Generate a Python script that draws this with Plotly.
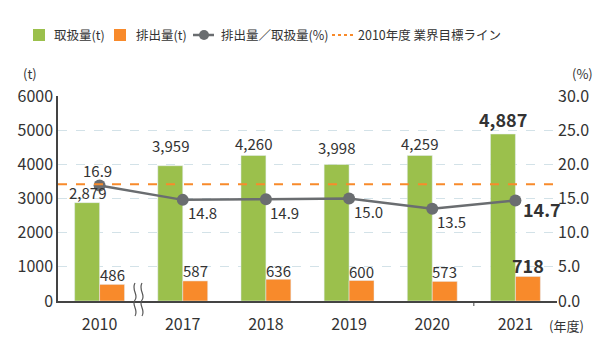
import plotly.graph_objects as go

years = ["2010", "2017", "2018", "2019", "2020", "2021"]
handled = [2879, 3959, 4260, 3998, 4259, 4887]
discharged = [486, 587, 636, 600, 573, 718]
rate = [16.9, 14.8, 14.9, 15.0, 13.5, 14.7]
target_rate = 17.1
legend_names = ["取扱量(t)", "排出量(t)", "排出量／取扱量(%)", "2010年度 業界目標ライン"]

# label placement (pixels) – styling only
handled_gap = [10, 20, 12, 17, 12, 15]
discharged_gap = [10, 10, 9, 9, 9.5, 11]
rate_shift = [(-2, 15, "center"), (3, -13, "left"), (2, -13, "left"),
              (3, -13, "left"), (3, -13, "left"), (6, -8, "left")]

GREEN = "#9bc04c"
ORANGE = "#f88a2b"
GRAY = "#6a6d70"
TXT = "#333333"
FONT = "Noto Sans CJK JP"

W, H = 610, 353
L, R, T, B = 58, 53, 96, 52
PW, PH = W - L - R, H - T - B

def px(x):
    return (x - L) / PW

def py(y):
    return (H - B - y) / PH

n = len(years)
last = n - 1

fig = go.Figure()
fig.add_trace(go.Bar(x=years, y=handled, name=legend_names[0], marker_color=GREEN,
                     offsetgroup="a"))
fig.add_trace(go.Bar(x=years, y=discharged, name=legend_names[1], marker_color=ORANGE,
                     offsetgroup="b"))
fig.add_trace(go.Scatter(
    x=years, y=rate, name=legend_names[2], yaxis="y2", mode="lines+markers",
    line=dict(color=GRAY, width=2.5), marker=dict(color=GRAY, size=12),
    cliponaxis=False,
))

fig.add_shape(type="line", xref="paper", x0=0, x1=1, yref="y2",
              y0=target_rate, y1=target_rate,
              line=dict(color=ORANGE, width=2, dash="dash"), layer="above")

# tick between 2020 and 2021
fig.add_shape(type="line", xref="x", x0=4.5, x1=4.5, yref="paper", y0=0, y1=py(306),
              line=dict(color="#444", width=1))

# axis break marks
for bx in [135, 142]:
    a = px(bx)
    d = 4 / PW
    fig.add_shape(type="path", xref="paper", yref="paper",
                  path=f"M {a},{py(283)} C {a-d},{py(290)} {a+d},{py(295)} {a},{py(300)} "
                       f"C {a-d},{py(305)} {a+d},{py(310)} {a},{py(316)}",
                  line=dict(color="#555", width=1.2))

# manual legend
ly = py(35)
fig.add_shape(type="rect", xref="paper", yref="paper", x0=px(33), x1=px(45),
              y0=py(41), y1=py(29), fillcolor=GREEN, line_width=0)
fig.add_shape(type="rect", xref="paper", yref="paper", x0=px(114), x1=px(126),
              y0=py(41), y1=py(29), fillcolor=ORANGE, line_width=0)
fig.add_shape(type="line", xref="paper", yref="paper", x0=px(193), x1=px(214),
              y0=ly, y1=ly, line=dict(color=GRAY, width=2.5))
fig.add_shape(type="circle", xref="paper", yref="paper", x0=px(199), x1=px(209),
              y0=py(40), y1=py(30), fillcolor=GRAY, line_width=0)
fig.add_shape(type="line", xref="paper", yref="paper", x0=px(332), x1=px(353),
              y0=ly, y1=ly, line=dict(color=ORANGE, width=2, dash="3px,3px"))

annotations = []
for name, x0 in zip(legend_names, [52, 134, 219, 356]):
    annotations.append(dict(text=name, xref="paper", yref="paper", x=px(x0), y=ly,
                            xanchor="left", yanchor="middle", showarrow=False,
                            font=dict(size=12.5, color=TXT)))

# data labels
for i in range(n):
    bold = i == last
    size = 18 if bold else 15
    for vals, gaps, dx in [(handled, handled_gap, -0.15), (discharged, discharged_gap, 0.15)]:
        s = f"{vals[i]:,}"
        annotations.append(dict(
            text=f"<b>{s}</b>" if bold else s, x=i + dx, y=vals[i], xref="x", yref="y",
            xanchor="center", yanchor="middle", yshift=gaps[i], showarrow=False,
            font=dict(size=size, color=TXT)))
    sx, sy, anc = rate_shift[i]
    s = f"{rate[i]:.1f}"
    annotations.append(dict(
        text=f"<b>{s}</b>" if bold else s, x=i, y=rate[i], xref="x", yref="y2",
        xanchor=anc, yanchor="middle", xshift=sx, yshift=sy, showarrow=False,
        font=dict(size=size, color=TXT)))

annotations += [
    dict(text="(t)", xref="paper", yref="paper", x=px(30), y=py(74), showarrow=False,
         xanchor="center", yanchor="middle", font=dict(size=13, color=TXT)),
    dict(text="(%)", xref="paper", yref="paper", x=px(582), y=py(74), showarrow=False,
         xanchor="center", yanchor="middle", font=dict(size=13, color=TXT)),
    dict(text="(年度)", xref="paper", yref="paper", x=px(547), y=py(325), xanchor="left",
         yanchor="middle", showarrow=False, font=dict(size=13, color=TXT)),
]

grid = "#d3e2e8"
fig.update_layout(
    width=W, height=H,
    margin=dict(l=L, r=R, t=T, b=B, autoexpand=False),
    paper_bgcolor="white", plot_bgcolor="white",
    font=dict(family=FONT, color=TXT, size=14),
    barmode="group", bargap=0.4, bargroupgap=0,
    showlegend=False,
    xaxis=dict(type="category", showline=True, linecolor="#444", linewidth=1.5,
               ticks="", tickfont=dict(size=16, color=TXT), showgrid=False,
               ticklabelstandoff=8, range=[-0.5, 5.5]),
    yaxis=dict(range=[0, 6000], dtick=1000, showline=True, linecolor="#444", linewidth=1.5,
               showgrid=True, gridcolor=grid, griddash="dash", gridwidth=1,
               tickfont=dict(size=16, color=TXT), ticks="", zeroline=False),
    yaxis2=dict(range=[0, 30], dtick=5, tickformat=".1f", overlaying="y", side="right",
                showgrid=False, tickfont=dict(size=16, color=TXT), ticks="", zeroline=False),
    annotations=annotations,
)

fig.write_html("out.html")
